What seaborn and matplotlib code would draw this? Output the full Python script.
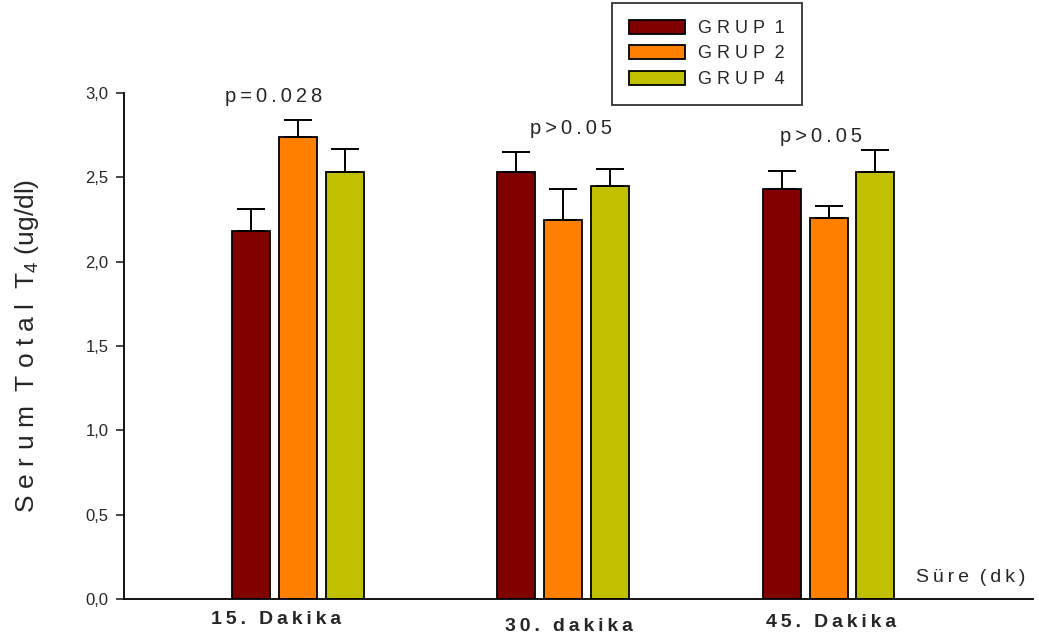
import pandas as pd
import seaborn as sns
import matplotlib.pyplot as plt
from matplotlib.transforms import ScaledTranslation

sns.set_style('white')
plt.rcParams['font.family'] = ['Liberation Sans', 'DejaVu Sans']
plt.rcParams['mathtext.fontset'] = 'custom'
plt.rcParams['mathtext.rm'] = 'Liberation Sans'

TS = '\u2009'  # thin space, stands in for the wide letter spacing


def spaced(s):
    return TS.join(s)


# chart values
times = ['15. Dakika', '30. dakika', '45. Dakika']
groups = ['G R U P  1', 'G R U P  2', 'G R U P  4']
grup1 = [2.18, 2.53, 2.43]
grup2 = [2.74, 2.25, 2.26]
grup4 = [2.53, 2.45, 2.53]
err1 = [0.13, 0.12, 0.11]
err2 = [0.10, 0.18, 0.07]
err4 = [0.14, 0.10, 0.13]
p_labels = ['p=0.028', 'p>0.05', 'p>0.05']
p_heights = [2.98, 2.79, 2.74]
p_shift = [-0.09, 0.03, -0.03]
colors = ['#800000', '#FF8000', '#C0C000']

rows = []
for g, vals in zip(groups, [grup1, grup2, grup4]):
    for t, v in zip(times, vals):
        rows.append({'Zaman': t, 'Grup': g, 'T4': v})
df = pd.DataFrame(rows)

fig = plt.figure(figsize=(10.39, 6.40), dpi=100)
ax = fig.add_axes([124 / 1039, 41 / 640, 909 / 1039, 506 / 640])

sns.barplot(data=df, x='Zaman', y='T4', hue='Grup', palette=colors,
            saturation=1, errorbar=None, width=0.53, gap=0.19,
            edgecolor='black', linewidth=1.3, ax=ax, legend=True)

# upper error bars only
for cont, errs in zip(ax.containers, [err1, err2, err4]):
    for bar, e in zip(cont, errs):
        xc = bar.get_x() + bar.get_width() / 2
        h = bar.get_height()
        ax.errorbar(xc, h, yerr=[[0], [e]], fmt='none', ecolor='black',
                    elinewidth=1.4, capsize=10, capthick=1.4, zorder=1)

for i, (lab, y) in enumerate(zip(p_labels, p_heights)):
    ax.text(i + p_shift[i], y, spaced(lab), ha='center', va='center',
            fontsize=14.5)

ax.set_ylim(0, 3.0)
ax.set_xlim(-0.654, 2.77)
ax.set_yticks([0, 0.5, 1.0, 1.5, 2.0, 2.5, 3.0])
ax.set_yticklabels(['0,0', '0,5', '1,0', '1,5', '2,0', '2,5', '3,0'],
                   fontsize=12)
ax.tick_params(axis='y', direction='out', length=6, width=1.2, pad=5,
               left=True)
ax.tick_params(axis='x', length=0)
ax.set_xticks(range(3))
ax.set_xticklabels([spaced(t) for t in times], fontsize=14,
                   fontweight='bold')
for tick, pad in zip(ax.xaxis.get_major_ticks(), [9, 14, 10.5]):
    tick.set_pad(pad)
for lab, dx in zip(ax.get_xticklabels(), [-22, 6, 2]):
    lab.set_transform(lab.get_transform() +
                      ScaledTranslation(dx / 100, 0, fig.dpi_scale_trans))

sns.despine(ax=ax)
for s in ['left', 'bottom']:
    ax.spines[s].set_color('black')
    ax.spines[s].set_linewidth(1.3)

ax.set_xlabel('')
ax.set_ylabel('S e r u m  T o t a l  T$_4$ (ug/dl)', fontsize=19,
              labelpad=32)
fig.text(971 / 1039, 1 - 577 / 640, spaced('Süre') + '  ' + spaced('(dk)'),
         ha='center', va='center', fontsize=14)

leg = ax.legend(loc='upper left', bbox_to_anchor=(612 / 1039, 1 - 3 / 640),
                bbox_transform=fig.transFigure, fontsize=13, frameon=True,
                fancybox=False, edgecolor='black', handlelength=3.15,
                handleheight=0.83, borderpad=0.92, labelspacing=0.45,
                handletextpad=0.72, borderaxespad=0)
leg.get_frame().set_linewidth(1.3)

fig.savefig('out.png', dpi=100)
